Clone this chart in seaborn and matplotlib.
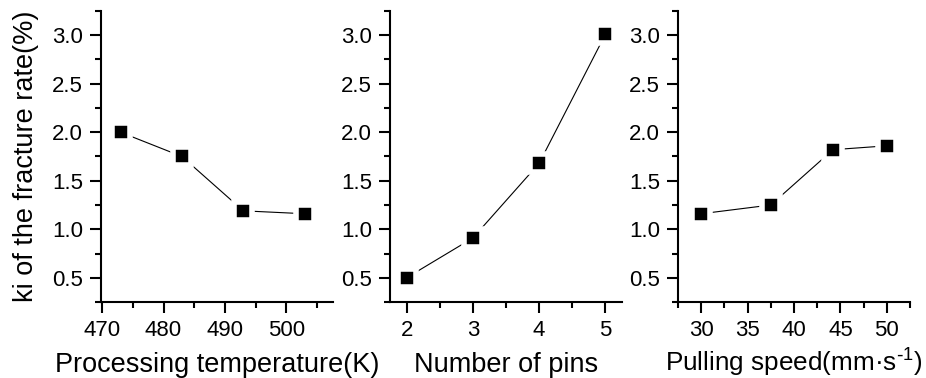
import pandas as pd
import seaborn as sns
import matplotlib.pyplot as plt
from matplotlib.ticker import MultipleLocator

# 数据
temp = [473, 483, 493, 503]
temp_ki = [2.00, 1.75, 1.19, 1.16]
pins = [2, 3, 4, 5]
pins_ki = [0.50, 0.91, 1.68, 3.01]
speed = [30, 37.5, 44.2, 50]
speed_ki = [1.16, 1.25, 1.82, 1.86]

sns.set_style('ticks')
plt.rcParams['font.family'] = ['Liberation Sans', 'DejaVu Sans']
plt.rcParams['mathtext.default'] = 'regular'
plt.rcParams['axes.linewidth'] = 1.5
for k in ['text.color', 'axes.labelcolor', 'xtick.color', 'ytick.color', 'axes.edgecolor']:
    plt.rcParams[k] = 'black'

fig = plt.figure(figsize=(9.26, 3.78), dpi=100)
lefts = [0.109, 0.4212, 0.7322]
axes = [fig.add_axes([l, 0.201, 0.2505, 0.770]) for l in lefts]

panels = [
    (temp, temp_ki, 'Processing temperature(K)', (469.8, 507.6), 10, 5, 19.5),
    (pins, pins_ki, 'Number of pins', (1.75, 5.25), 1, 0.5, 19.5),
    (speed, speed_ki, r'Pulling speed(mm·s$^{\text{-}1}$)', (27.5, 52.5), 5, 2.5, 18.8),
]

for i, (ax, (x, y, label, xlim, major, minor, fs)) in enumerate(zip(axes, panels)):
    df = pd.DataFrame({'x': x, 'y': y})
    sns.lineplot(data=df, x='x', y='y', ax=ax, color='black', linewidth=0.8,
                 marker='s', markersize=13, markerfacecolor='black',
                 markeredgecolor='white', markeredgewidth=4)
    ax.set_xlim(*xlim)
    ax.set_ylim(0.25, 3.25)
    ax.xaxis.set_major_locator(MultipleLocator(major))
    ax.xaxis.set_minor_locator(MultipleLocator(minor))
    ax.yaxis.set_major_locator(MultipleLocator(0.5))
    ax.yaxis.set_minor_locator(MultipleLocator(0.25))
    ax.tick_params(which='major', length=8, width=1.5, labelsize=16, pad=5)
    ax.tick_params(which='minor', length=4, width=1.5)
    ax.set_xlabel(label, fontsize=fs)
    ax.xaxis.set_label_coords(0.5, -0.2405)
    ax.xaxis.label.set_va('baseline')
    if i == 0:
        ax.set_ylabel('ki of the fracture rate(%)', fontsize=19.5, labelpad=9)
    else:
        ax.set_ylabel('')
    sns.despine(ax=ax)

fig.savefig('out.png', dpi=100)
